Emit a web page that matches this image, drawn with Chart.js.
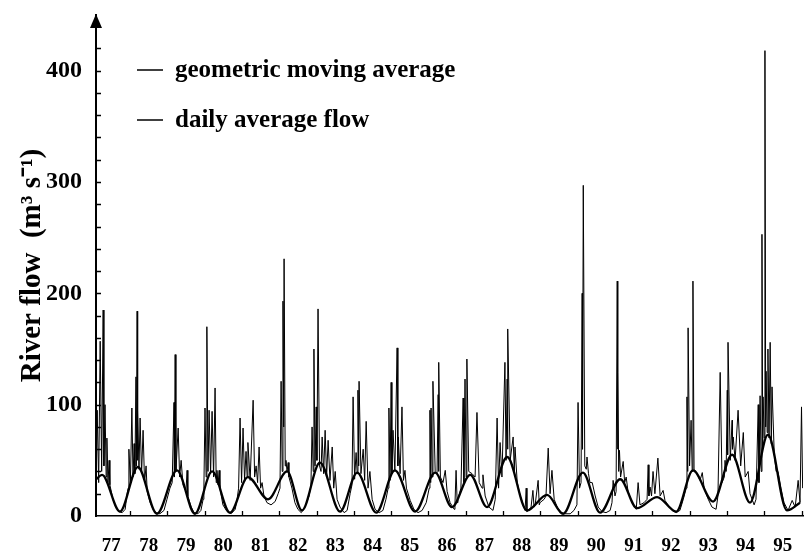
<!DOCTYPE html>
<html>
<head>
<meta charset="utf-8">
<script src="https://cdn.jsdelivr.net/npm/chart.js@4.4.1/dist/chart.umd.min.js"></script>
<style>
  html, body { margin: 0; padding: 0; background: #fff; }
  #grafico { display: block; }
</style>
</head>
<body>
<canvas id="grafico" width="809" height="554"></canvas>
<script>
// x = decimal year (77.5 = middle of 1977), y = river flow m3/s
var yearLabels = ["77","78","79","80","81","82","83","84","85","86","87","88","89","90","91","92","93","94","95"];
var yearTicks = [77.5,78.5,79.5,80.5,81.5,82.5,83.5,84.5,85.5,86.5,87.5,88.5,89.5,90.5,91.5,92.5,93.5,94.5,95.5];
var yTicks = [0, 100, 200, 300, 400];

// geometric moving average (humps and troughs)
var avgYears = [77.09,77.25,77.73,78.21,78.72,79.26,79.74,80.20,80.68,81.16,
  81.70,82.21,82.61,83.09,83.63,84.09,84.60,85.10,85.64,86.18,
  86.63,87.12,87.57,88.11,88.64,89.18,89.61,90.14,90.60,91.14,
  91.59,92.13,92.64,93.09,93.63,94.14,94.62,95.10,95.61,95.96];
var avgFlow = [33,37,4,44,2,41,2,40,3,35,
  15,40,5,48,4,39,3,41,4,39,
  8,37,8,53,5,19,2,39,3,33,
  7,17,4,41,13,55,12,73,5,12];

// daily average flow
var dailyYears = [
  77.09,77.12,77.16,77.20,77.24,77.28,77.30,77.33,77.36,77.38,77.41,77.44,77.46,77.54,77.62,77.70,77.79,77.87,
  77.92,77.95,77.97,78.01,78.05,78.08,78.11,78.13,78.16,78.17,78.19,78.20,78.21,78.24,78.27,78.31,78.35,78.39,78.43,78.46,78.54,78.62,78.70,78.80,78.91,
  78.99,79.07,79.13,79.18,79.19,79.21,79.23,79.29,79.33,79.37,79.42,79.50,79.53,79.55,79.64,79.72,79.82,79.90,
  79.96,79.98,80.01,80.04,80.06,80.09,80.12,80.16,80.20,80.24,80.28,80.31,80.33,80.36,80.39,80.41,80.49,80.60,80.71,80.82,
  80.87,80.91,80.95,80.99,81.03,81.07,81.11,81.14,81.16,81.22,81.30,81.34,81.38,81.42,81.46,81.50,81.54,81.59,81.67,81.78,81.89,81.97,
  82.02,82.05,82.08,82.10,82.12,82.13,82.16,82.18,82.21,82.24,82.26,82.34,82.42,82.50,82.59,82.69,
  82.80,82.85,82.88,82.91,82.93,82.96,82.99,83.01,83.04,83.08,83.12,83.15,83.19,83.23,83.27,83.31,83.36,83.42,83.46,83.50,83.55,83.63,83.74,83.82,
  83.90,83.95,83.98,84.02,84.06,84.09,84.11,84.13,84.14,84.19,84.25,84.29,84.33,84.38,84.43,84.49,84.57,84.68,84.78,
  84.86,84.92,84.94,84.97,85.00,85.02,85.05,85.10,85.16,85.18,85.19,85.24,85.29,85.33,85.37,85.41,85.51,85.61,85.72,85.83,
  85.94,86.02,86.04,86.06,86.07,86.10,86.12,86.18,86.23,86.26,86.27,86.28,86.32,86.39,86.45,86.50,86.58,86.69,
  86.71,86.74,86.77,86.79,86.87,86.93,86.95,86.98,87.01,87.03,87.08,87.17,87.25,87.30,87.36,87.44,87.46,87.52,87.62,87.73,
  87.79,87.84,87.88,87.92,87.97,88.05,88.08,88.11,88.12,88.13,88.19,88.27,88.30,88.32,88.38,88.46,88.56,
  88.59,88.62,88.64,88.70,88.75,88.80,88.83,88.86,88.94,88.97,88.99,89.10,89.15,89.21,89.26,89.31,89.37,89.45,89.56,89.66,89.80,89.90,
  89.98,90.01,90.05,90.09,90.12,90.13,90.15,90.19,90.23,90.25,90.29,90.33,90.39,90.47,90.55,90.65,90.76,90.87,
  90.92,90.95,91.00,91.03,91.06,91.07,91.08,91.10,91.12,91.15,91.22,91.26,91.30,91.35,91.46,91.57,
  91.62,91.67,91.78,91.86,91.89,91.91,91.94,91.98,92.02,92.07,92.15,92.21,92.29,92.34,92.42,92.53,92.64,92.74,
  92.83,92.91,92.93,92.95,92.96,93.00,93.04,93.07,93.09,93.12,93.20,93.28,93.34,93.39,93.50,93.60,93.71,
  93.76,93.82,93.87,93.93,93.95,93.98,94.01,94.02,94.03,94.09,94.14,94.15,94.17,94.22,94.30,94.37,94.44,94.49,94.57,94.62,94.73,
  94.78,94.84,94.86,94.89,94.92,94.94,94.96,94.97,95.00,95.02,95.04,95.05,95.08,95.10,95.13,95.16,95.19,95.21,95.27,95.32,95.37,95.45,95.53,95.64,95.75,95.83,95.91,95.96,96.00,96.03
];
var dailyFlow = [
  20,95,30,157,40,185,45,100,35,70,30,50,28,15,8,4,3,6,
  20,25,60,30,97,35,65,38,125,45,184,50,95,42,88,38,77,30,45,22,12,6,3,2,5,
  15,25,30,102,35,145,40,79,35,50,28,22,41,18,8,3,2,5,
  15,25,97,35,170,40,95,38,94,35,115,30,41,28,41,25,10,4,2,6,
  15,25,88,30,79,32,58,35,66,32,104,35,45,30,62,25,30,18,12,10,13,20,
  25,121,40,193,80,231,45,50,40,48,35,25,12,6,3,8,
  18,28,80,40,150,45,98,50,186,45,40,71,38,77,35,68,32,62,25,40,15,8,3,5,
  20,28,107,33,57,38,113,45,121,38,60,32,85,25,40,15,6,3,5,
  15,25,97,32,120,38,77,40,151,45,71,38,98,32,41,25,14,6,3,5,
  12,25,95,30,97,35,121,40,38,109,40,138,35,30,41,22,12,6,
  10,41,12,15,25,106,30,123,35,141,40,38,35,93,30,25,37,18,8,5,
  15,88,25,66,35,138,50,123,60,168,50,71,40,62,30,18,8,
  5,25,4,6,8,23,8,10,32,10,12,15,18,61,20,41,15,8,3,2,2,5,
  10,102,25,30,200,60,297,45,42,53,38,30,30,18,8,4,3,5,
  12,32,18,22,211,60,129,40,59,35,49,30,35,22,12,6,
  30,10,12,15,46,18,26,18,40,20,52,18,23,14,10,5,3,5,
  15,25,107,40,169,45,86,40,211,42,38,32,39,25,15,8,6,
  18,129,30,35,50,40,113,55,156,50,86,60,71,50,95,45,75,35,40,20,10,
  15,100,30,108,40,253,60,107,70,418,80,130,75,150,70,156,65,116,55,40,40,25,12,5,14,8,32,12,98,25
];

var serif = "'Liberation Serif', 'Times New Roman', serif";

// marcas cortas hacia dentro y flecha del eje y
const ejes = {
  id: 'ejes',
  afterDraw(chart) {
    const ctx = chart.ctx, sx = chart.scales.x, sy = chart.scales.y, a = chart.chartArea;
    ctx.save();
    ctx.strokeStyle = '#000';
    ctx.lineWidth = 1.3;
    ctx.beginPath();
    for (let v = 78; v <= 96; v++) {
      const px = Math.round(sx.getPixelForValue(v)) + 0.5;
      ctx.moveTo(px, a.bottom);
      ctx.lineTo(px, a.bottom - 5);
    }
    for (let v = 20; v <= 440; v += 20) {
      const py = Math.round(sy.getPixelForValue(v)) + 0.5;
      ctx.moveTo(a.left, py);
      ctx.lineTo(a.left + 5, py);
    }
    ctx.stroke();
    ctx.fillStyle = '#000';
    ctx.beginPath();
    ctx.moveTo(a.left, a.top - 1);
    ctx.lineTo(a.left - 6, a.top + 13);
    ctx.lineTo(a.left + 6, a.top + 13);
    ctx.closePath();
    ctx.fill();
    ctx.restore();
  }
};

// leyenda dentro del grafico
const leyenda = {
  id: 'leyenda',
  afterDraw(chart) {
    const ctx = chart.ctx, a = chart.chartArea;
    ctx.save();
    ctx.font = 'bold 25px ' + serif;
    ctx.textBaseline = 'alphabetic';
    chart.data.datasets.forEach(function(ds, i) {
      const yy = a.top + 55 + i * 50;
      ctx.strokeStyle = '#000';
      ctx.lineWidth = 1.5;
      ctx.beginPath();
      ctx.moveTo(a.left + 41, yy);
      ctx.lineTo(a.left + 67, yy);
      ctx.stroke();
      ctx.fillStyle = '#000';
      ctx.fillText(ds.label, a.left + 79, yy + 7);
    });
    ctx.restore();
  }
};

new Chart("grafico", {
  type: "line",
  data: {
    datasets: [{
      label: "geometric moving average",
      data: avgYears.map(function(x, i) { return {x: x, y: avgFlow[i]}; }),
      borderColor: "#000",
      borderWidth: 2.3,
      pointRadius: 0,
      cubicInterpolationMode: "monotone",
      fill: false
    }, {
      label: "daily average flow",
      data: dailyYears.map(function(x, i) { return {x: x, y: dailyFlow[i]}; }),
      borderColor: "#000",
      borderWidth: 1,
      pointRadius: 0,
      tension: 0,
      fill: false
    }]
  },
  options: {
    responsive: false,
    animation: false,
    events: [],
    layout: { padding: { top: 15, right: 6, left: 0, bottom: 0 } },
    plugins: { legend: { display: false }, tooltip: { enabled: false } },
    scales: {
      x: {
        type: "linear",
        min: 77.088,
        max: 96.04,
        grid: { display: false, drawTicks: false },
        border: { display: true, color: "#000", width: 1.5 },
        afterBuildTicks: function(s) { s.ticks = yearTicks.map(function(v) { return {value: v}; }); },
        afterFit: function(s) { s.height = 38; s.paddingLeft = 0; s.paddingRight = 0; },
        ticks: {
          autoSkip: false, maxRotation: 0, padding: 19, color: "#000",
          font: { family: serif, size: 19, weight: "bold" },
          callback: function(v, i) { return yearLabels[i]; }
        }
      },
      y: {
        min: 0,
        max: 450,
        grid: { display: false, drawTicks: false },
        border: { display: true, color: "#000", width: 2 },
        afterBuildTicks: function(s) { s.ticks = yTicks.map(function(v) { return {value: v}; }); },
        afterFit: function(s) { s.width = 96; s.paddingTop = 0; s.paddingBottom = 0; },
        ticks: {
          padding: 14, color: "#000",
          font: { family: serif, size: 24, weight: "bold" }
        },
        title: {
          display: true,
          text: "River flow  (m³ s⁻¹)",
          color: "#000",
          font: { family: serif, size: 29, weight: "bold" },
          padding: { top: 15, bottom: 0 }
        }
      }
    }
  },
  plugins: [ejes, leyenda]
});
</script>
</body>
</html>
